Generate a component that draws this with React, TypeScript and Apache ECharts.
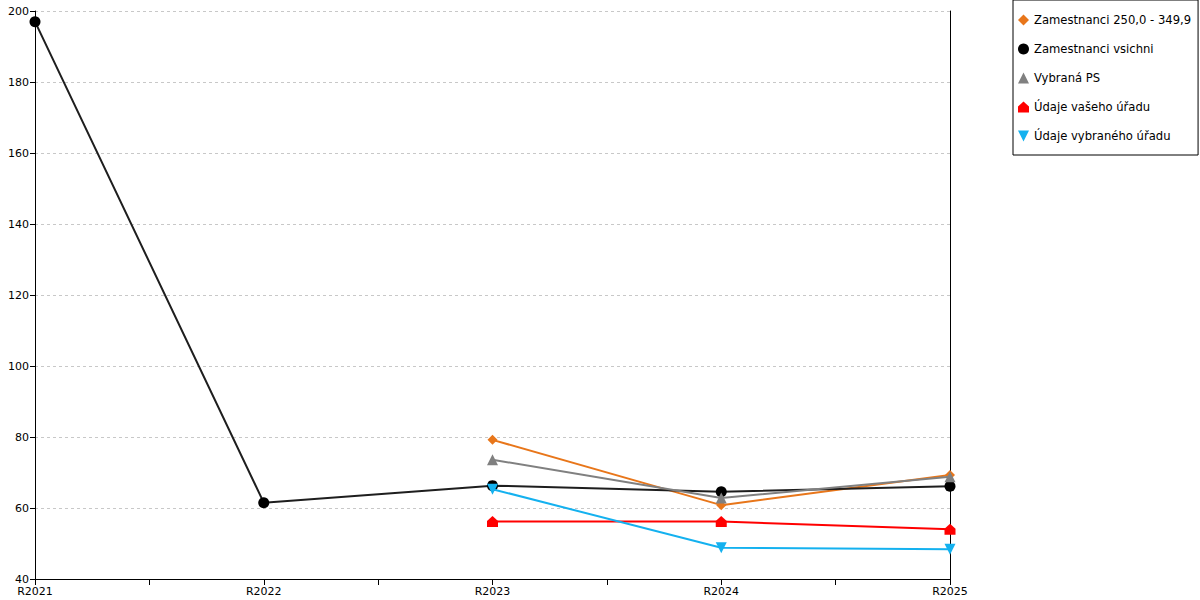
import React, { useEffect, useRef } from "react";
import * as echarts from "echarts";

const categories = ["R2021", "R2022", "R2023", "R2024", "R2025"];
const seriesNames = [
  "Zamestnanci 250,0 - 349,9",
  "Zamestnanci vsichni",
  "Vybraná PS",
  "Údaje vašeho úřadu",
  "Údaje vybraného úřadu",
];
const zam250: (number | null)[] = [null, null, 79.2, 60.8, 69.3];
const zamVsichni: (number | null)[] = [197.0, 61.5, 66.3, 64.6, 66.1];
const vybranaPS: (number | null)[] = [null, null, 73.6, 62.8, 68.8];
const vasUrad: (number | null)[] = [null, null, 56.2, 56.2, 54.0];
const vybranyUrad: (number | null)[] = [null, null, 65.3, 48.8, 48.4];
const yTicks = [40, 60, 80, 100, 120, 140, 160, 180, 200];

const colors = ["#e8761a", "#000000", "#808080", "#ff0000", "#14b1ef"];
const houseSymbol = "path://M0,10 L0,4.5 L5,0 L10,4.5 L10,10 Z";
const symbols = ["diamond", "circle", "triangle", houseSymbol, "path://M0,0 L10,0 L5,10 Z"];
const symbolSizes = [10, 11, 11, 11, 11];

export default function App() {
  const ref = useRef<HTMLDivElement>(null);
  useEffect(() => {
    if (!ref.current) return;
    const chart = echarts.init(ref.current, undefined, { renderer: "svg" });
    const allData = [zam250, zamVsichni, vybranaPS, vasUrad, vybranyUrad];
    const font = "DejaVu Sans";
    chart.setOption({
      animation: false,
      textStyle: { fontFamily: font },
      grid: { left: 35, right: 250, top: 11, bottom: 21, containLabel: false },
      legend: {
        orient: "vertical",
        left: 1013,
        top: 0,
        padding: [14, 7, 13, 5],
        itemGap: 17,
        itemWidth: 11,
        itemHeight: 11,
        borderColor: "#000",
        borderWidth: 1,
        textStyle: { fontFamily: font, fontSize: 11.6, color: "#000" },
        data: seriesNames.map((n, i) => ({ name: n, icon: symbols[i] })),
      },
      xAxis: {
        type: "value",
        min: 0,
        max: categories.length - 1,
        interval: 0.5,
        axisLine: { show: true, lineStyle: { color: "#000", width: 1 } },
        axisTick: { show: true, length: 6, lineStyle: { color: "#000" } },
        splitLine: { show: false },
        axisLabel: {
          color: "#000",
          fontSize: 11,
          fontFamily: font,
          margin: 7,
          showMinLabel: true,
          showMaxLabel: true,
          formatter: (v: number) => (Number.isInteger(v) ? categories[v] ?? "" : ""),
        },
      },
      yAxis: [
        {
          type: "value",
          min: yTicks[0],
          max: yTicks[yTicks.length - 1],
          interval: 20,
          axisLine: { show: true, lineStyle: { color: "#000" } },
          axisTick: { show: true, length: 5, lineStyle: { color: "#000" } },
          axisLabel: { color: "#000", fontSize: 11, fontFamily: font, margin: 6 },
          splitLine: { show: true, lineStyle: { color: "#c8c8c8", type: [3, 3], width: 1 } },
        },
        {
          type: "value",
          position: "right",
          min: yTicks[0],
          max: yTicks[yTicks.length - 1],
          interval: 20,
          axisLine: { show: true, lineStyle: { color: "#000" } },
          axisTick: { show: false },
          axisLabel: { show: false },
          splitLine: { show: false },
        },
      ],
      series: seriesNames.map((name, i) => ({
        name,
        type: "line",
        yAxisIndex: 0,
        data: allData[i]
          .map((v, idx) => (v === null ? null : [idx, v]))
          .filter((d) => d !== null),
        symbol: symbols[i],
        symbolSize: symbolSizes[i],
        showAllSymbol: true,
        lineStyle: { color: i === 1 ? "#1e1e1e" : colors[i], width: 2 },
        itemStyle: { color: colors[i] },
        z: 2 + i,
      })),
    });
    return () => chart.dispose();
  }, []);
  return (
    <div
      ref={ref}
      style={{ position: "fixed", left: 0, top: 0, width: 1200, height: 600, background: "#fff" }}
    />
  );
}
